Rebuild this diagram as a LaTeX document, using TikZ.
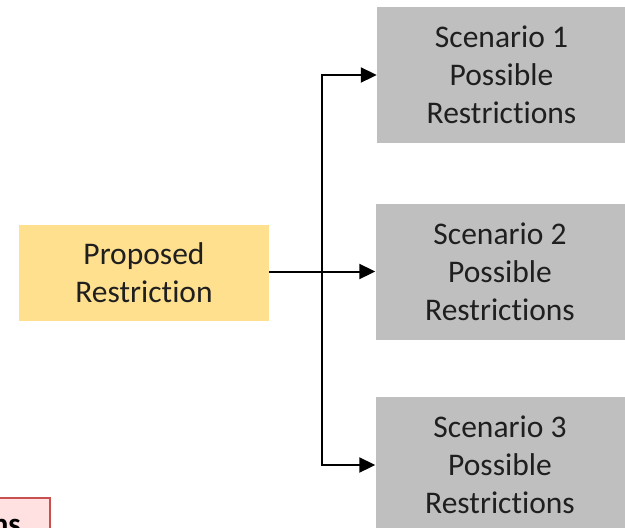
\documentclass[tikz,border=0pt]{standalone}
\usepackage{fontspec}
\setmainfont{Carlito}[RawFeature={-liga;-clig;-dlig}]
\usetikzlibrary{arrows.meta}
\definecolor{propfill}{HTML}{FFE08F}
\definecolor{scenfill}{HTML}{BFBFBF}
\definecolor{pinkfill}{HTML}{FFE1E1}
\definecolor{pinkline}{HTML}{C9504E}
\tikzset{
  boxtext/.style={font=\fontsize{31.5}{38}\selectfont, align=center, inner sep=0pt, text=black!88},
  propbox/.style={boxtext, fill=propfill, minimum width=250pt, minimum height=96pt},
  scenbox/.style={boxtext, fill=scenfill, minimum width=249pt, minimum height=136pt},
  conn/.style={line width=2pt, -{Triangle[length=16pt,width=15pt]}},
  trunk/.style={line width=2pt}
}
\begin{document}
\begin{tikzpicture}[x=1pt,y=-1pt]
\useasboundingbox (0,0) rectangle (625,528);
\clip (0,0) rectangle (625,528);
\node[propbox] (prop) at (144,273) {Proposed\\Restriction};
\node[scenbox] (s1) at (501.5,75) {Scenario 1\\Possible\\Restrictions};
\node[scenbox] (s2) at (500,271.5) {Scenario 2\\Possible\\Restrictions};
\node[scenbox] (s3) at (500,465) {Scenario 3\\Possible\\Restrictions};
\coordinate (j) at (322,272);
\draw[trunk] (prop.east |- j) -- (j);
\draw[conn] (j) |- (s1.west);
\draw[conn] (j) |- (s2.west);
\draw[conn] (j) |- (s3.west);
\node[draw=pinkline, line width=1.5pt, fill=pinkfill, minimum width=100pt, minimum height=50pt, inner sep=0pt] (pink) at (0,523) {};
\node[anchor=base east, inner sep=0pt, font=\fontsize{31}{38}\selectfont\bfseries] (ptext) at (21,534) {ns};
\end{tikzpicture}
\end{document}
